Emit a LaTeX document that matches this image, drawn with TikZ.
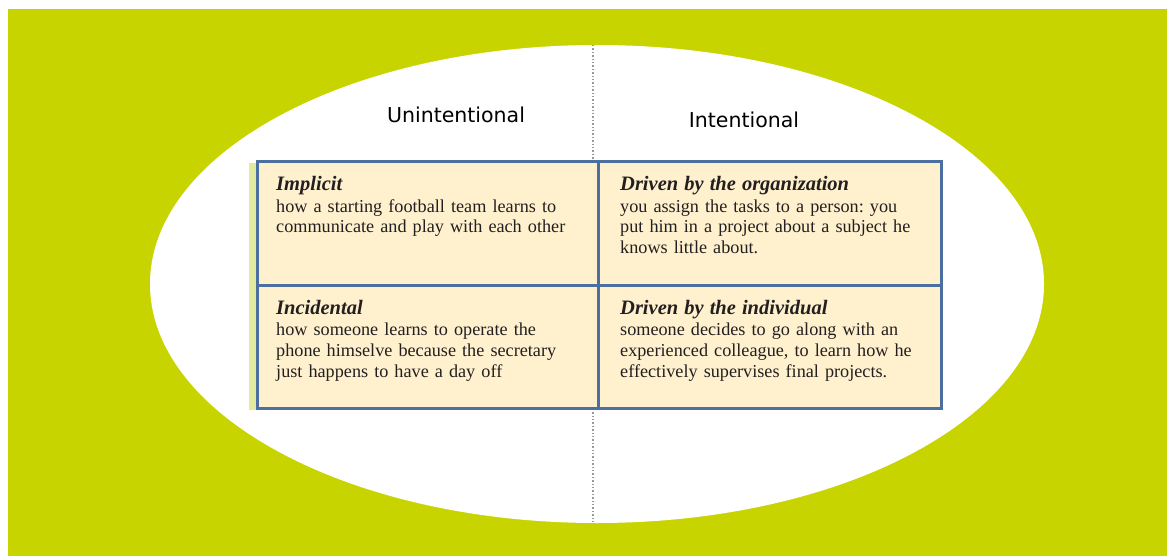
\documentclass[tikz,border=0pt]{standalone}
\usepackage{fontspec}
\setmainfont{Liberation Serif}
\newfontfamily\headfont{DejaVu Sans}
\frenchspacing
\definecolor{limebg}{RGB}{200,212,0}
\definecolor{cellfill}{RGB}{255,241,206}
\definecolor{cellline}{RGB}{74,111,160}
\definecolor{txt}{RGB}{35,31,32}
\definecolor{shadowgreen}{RGB}{226,234,160}
\newcommand{\celltitle}[1]{{\fontsize{20.5}{21}\selectfont\textbf{\textit{#1}}}}
\tikzset{
  cellbox/.style={draw=cellline, line width=2.6pt, fill=cellfill, rectangle, inner sep=0pt, anchor=north west},
  celltext/.style={anchor=base west, inner sep=0pt, text width=315pt, align=left, text=txt,
    font=\fontsize{18.2}{21}\selectfont},
  headtext/.style={inner sep=0pt, text=black, font=\headfont\fontsize{20.5}{24}\selectfont}
}
\begin{document}
\begin{tikzpicture}[x=1pt,y=-1pt]
\useasboundingbox (0,0) rectangle (1167,556);
\fill[white] (0,0) rectangle (1167,556);
\fill[limebg] (8,9) rectangle (1167,556);
\fill[white] (597,284) ellipse [x radius=447, y radius=239];
\coordinate (dtop) at (593,45);
\coordinate (dbot) at (593,523);
\draw[gray!80, line width=1.4pt, dotted] (dtop) -- (dbot);
\fill[shadowgreen] (249,163) rectangle (256,410);
\node[headtext] (hu) at (456,115) {Unintentional};
\node[headtext] (hi) at (744,120) {Intentional};
\node[cellbox, minimum width=341pt, minimum height=124pt] (c11) at (256,160) {};
\node[cellbox, minimum width=343pt, minimum height=124pt] (c12) at (597,160) {};
\node[cellbox, minimum width=341pt, minimum height=123pt] (c21) at (256,284) {};
\node[cellbox, minimum width=343pt, minimum height=123pt] (c22) at (597,284) {};
\node[celltext] (t11) at (276,191) {\celltitle{Implicit}\\how a starting football team learns to\\communicate and play with each other};
\node[celltext] (t12) at (620,191) {\celltitle{Driven by the organization}\\you assign the tasks to a person: you\\put him in a project about a subject he\\knows little about.};
\node[celltext] (t21) at (276,314) {\celltitle{Incidental}\\how someone learns to operate the\\phone himselve because the secretary\\just happens to have a day off};
\node[celltext] (t22) at (620,314) {\celltitle{Driven by the individual}\\someone decides to go along with an\\experienced colleague, to learn how he\\effectively supervises final projects.};
\end{tikzpicture}
\end{document}
